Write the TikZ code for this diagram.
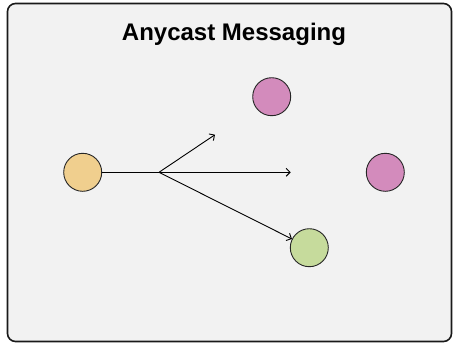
\documentclass[tikz,border=0pt]{standalone}
\usepackage{fontspec}
\setmainfont{Liberation Sans}
\usetikzlibrary{arrows.meta}
\definecolor{bgc}{HTML}{F2F2F2}
\definecolor{orangec}{HTML}{F0CF8E}
\definecolor{pinkc}{HTML}{D38BBC}
\definecolor{greenc}{HTML}{C6DB9C}
\tikzset{
  dot/.style={circle, draw=black!85, line width=0.9pt, minimum size=38pt, inner sep=0pt},
  msg/.style={line width=0.9pt, -{Straight Barb[length=4pt,width=8pt,line width=0.9pt]}},
  frame/.style={draw=black!90, fill=bgc, line width=1.6pt, rounded corners=8pt}
}
\begin{document}
\begin{tikzpicture}[x=1pt,y=1pt]
\useasboundingbox (0,0) rectangle (454,-343);
\draw[frame] (7.5,-3.5) rectangle (451.5,-341.5);
\node[anchor=base, font=\bfseries\fontsize{24}{28}\selectfont] (title) at (234,-40.7) {Anycast Messaging};
\node[dot, fill=orangec] (src) at (82.7,-172.3) {};
\node[dot, fill=pinkc] (p1) at (271.7,-96.7) {};
\node[dot, fill=pinkc] (p2) at (385.3,-172.3) {};
\node[dot, fill=greenc] (g) at (309.3,-247.7) {};
\coordinate (br) at (159,-172.3);
\coordinate (e1) at (215,-134.7);
\coordinate (e2) at (290.7,-172.3);
\draw[line width=0.9pt] (src) -- (br);
\draw[msg] (br) -- (e1);
\draw[msg] (br) -- (e2);
\draw[msg] (br) -- (g);
\end{tikzpicture}
\end{document}
